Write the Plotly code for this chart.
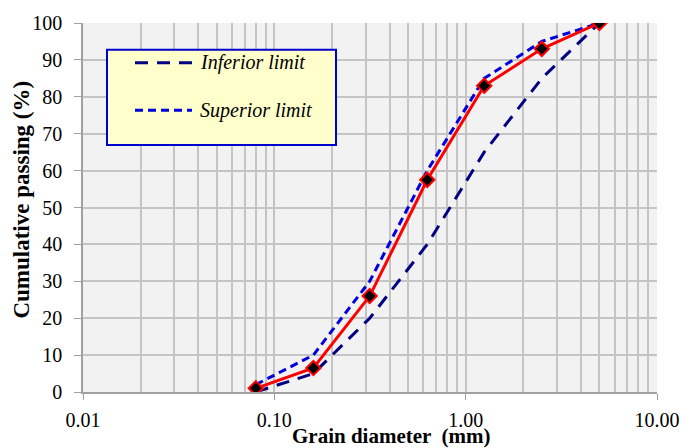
import plotly.graph_objects as go

# Data
sieve_mm = [0.08, 0.16, 0.315, 0.63, 1.25, 2.5, 5.0]
passing = [1, 6.5, 26, 57.5, 83, 93, 100]
inferior_limit = [0, 5, 20, 40, 65, 85, 100]
superior_limit = [2, 10, 30, 60, 85, 95, 100]

x_tickvals = [0.01, 0.1, 1, 10]
x_ticktext = ["0.01", "0.10", "1.00", "10.00"]
minor_vals = [m * d for d in [0.01, 0.1, 1] for m in range(2, 10)]

SERIF = "Liberation Serif, Times New Roman, serif"
NAVY = "#000080"
BLUE = "#0000dd"
GRID = "#c4c4c4"

fig = go.Figure()
fig.add_trace(go.Scatter(x=sieve_mm, y=inferior_limit, mode="lines", name="Inferior limit",
                         line=dict(color=NAVY, width=3, dash="13px,9px"), showlegend=False))
fig.add_trace(go.Scatter(x=sieve_mm, y=superior_limit, mode="lines", name="Superior limit",
                         line=dict(color=BLUE, width=3, dash="8px,5px"), showlegend=False))
fig.add_trace(go.Scatter(x=sieve_mm, y=passing, mode="lines+markers", name="Sample",
                         line=dict(color="#ff0000", width=3),
                         marker=dict(symbol="diamond", size=11, color="black",
                                     line=dict(color="#ff0000", width=2)),
                         showlegend=False))

# Manual legend box
lx0, lx1 = (107 - 83) / 574, (336 - 83) / 574
ly0, ly1 = (392 - 143) / 372, (392 - 47) / 372
fig.add_shape(type="rect", xref="paper", yref="paper", x0=lx0, x1=lx1, y0=ly0, y1=ly1,
              fillcolor="#ffffcc", line=dict(color="#0000cc", width=2), layer="above")
entries = [("Inferior limit", NAVY, "13px,9px", 60), ("Superior limit", BLUE, "8px,5px", 108)]
for name, col, dash, py in entries:
    yy = (392 - py) / 372
    fig.add_shape(type="line", xref="paper", yref="paper",
                  x0=(135 - 83) / 574, x1=(192 - 83) / 574, y0=yy, y1=yy,
                  line=dict(color=col, width=3, dash=dash), layer="above")
    fig.add_annotation(xref="paper", yref="paper", x=(198 - 83) / 574, y=yy, text=name,
                       showarrow=False, xanchor="left", yanchor="middle",
                       font=dict(family=SERIF, size=20, color="black", style="italic"))

# Axis titles
fig.add_annotation(xref="paper", yref="paper", x=(391 - 83) / 574, y=(392 - 436) / 372,
                   text="<b>Grain diameter  (mm)</b>", showarrow=False,
                   xanchor="center", yanchor="middle",
                   font=dict(family=SERIF, size=21, color="black"))
fig.add_annotation(xref="paper", yref="paper", x=(22 - 83) / 574, y=(392 - 198) / 372,
                   text="<b>Cumulative passing (%)</b>", showarrow=False, textangle=-90,
                   xanchor="center", yanchor="middle",
                   font=dict(family=SERIF, size=23, color="black"))

fig.update_layout(
    width=698, height=448,
    margin=dict(l=83, r=41, t=20, b=56),
    paper_bgcolor="white", plot_bgcolor="#f2f2f2",
    font=dict(family=SERIF, size=20, color="black"),
    showlegend=False,
)
fig.update_xaxes(type="log", range=[-2, 1], tickvals=x_tickvals, ticktext=x_ticktext,
                 showgrid=True, gridcolor=GRID, gridwidth=1.5,
                 minor=dict(tickvals=minor_vals, showgrid=True, gridcolor=GRID, gridwidth=1.5, ticks=""),
                 showline=True, linecolor="#a0a0a0", linewidth=1.5,
                 ticks="outside", ticklen=6, tickcolor="#a0a0a0", ticklabelstandoff=3,
                 zeroline=False, mirror=False)
fig.update_yaxes(range=[0, 100], dtick=10, showgrid=True, gridcolor=GRID, gridwidth=1.5,
                 showline=True, linecolor="#a0a0a0", linewidth=1.5,
                 ticks="outside", ticklen=7, tickcolor="#a0a0a0", ticklabelstandoff=8,
                 zeroline=False)

fig.write_html("out.html", config={"displayModeBar": False},
               post_script="document.body.style.margin='0';")
